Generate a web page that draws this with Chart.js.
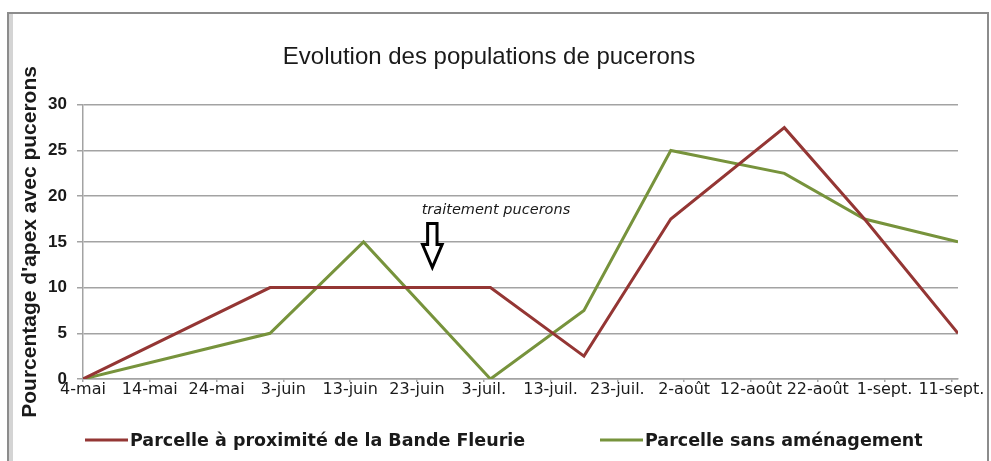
<!DOCTYPE html>
<html><head><meta charset="utf-8">
<script src="https://cdn.jsdelivr.net/npm/chart.js@4.4.1/dist/chart.umd.min.js"></script>
<style>html,body{margin:0;padding:0;background:#fff;} canvas{display:block;}</style>
</head><body>
<canvas id="c" width="991" height="461"></canvas>
<script>
// ---- data ----
const chartTitle = 'Evolution des populations de pucerons';
const yAxisTitle = "Pourcentage d'apex avec pucerons";
const tickLabels = ['4-mai','14-mai','24-mai','3-juin','13-juin','23-juin','3-juil.','13-juil.','23-juil.','2-août','12-août','22-août','1-sept.','11-sept.'];
const tickDays = [0,10,20,30,40,50,60,70,80,90,100,110,120,130];   // days after 4-mai
const sampleDays = [0, 28, 42, 61, 75, 88, 105, 117, 131];          // days after 4-mai
const seriesNames = ['Parcelle à proximité de la Bande Fleurie', 'Parcelle sans aménagement'];
const bandeFleurie = [0, 10, 10, 10, 2.5, 17.5, 27.5, 17.5, 5];
const sansAmenagement = [0, 5, 15, 0, 7.5, 25, 22.5, 17.5, 15];
const annotationText = 'traitement pucerons';
const annotationTextDay = 50.7, annotationTextValue = 18.1;
const arrowDay = 52.3, arrowTopValue = 17.0, arrowTipValue = 12.2;

// ---- styles ----
const RED = '#943634', GREEN = '#77933c', GRID = '#a3a3a3', TXT = '#1a1a1a';
const SANS = "'Liberation Sans', Arial, sans-serif";

const framePlugin = {
  id: 'frame',
  beforeDraw(chart) {
    const ctx = chart.ctx;
    ctx.save();
    ctx.fillStyle = '#fff';
    ctx.fillRect(0, 0, chart.width, chart.height);
    ctx.fillStyle = '#d4d4d4';
    ctx.fillRect(9, 14, 4, chart.height);
    ctx.strokeStyle = '#8c8c8c';
    ctx.lineWidth = 2;
    ctx.strokeRect(8, 13, 980, chart.height + 10);
    ctx.restore();
  }
};

const overlayPlugin = {
  id: 'overlay',
  afterDraw(chart) {
    const ctx = chart.ctx;
    const xs = chart.scales.x, ys = chart.scales.y;
    ctx.save();
    // legend
    const legendY = 440;
    const itemX = [85, 600];
    chart.data.datasets.forEach((ds, i) => {
      ctx.strokeStyle = ds.borderColor;
      ctx.lineWidth = 3;
      ctx.beginPath();
      ctx.moveTo(itemX[i], legendY);
      ctx.lineTo(itemX[i] + 43, legendY);
      ctx.stroke();
      ctx.fillStyle = TXT;
      ctx.font = "bold 17.5px 'DejaVu Sans', sans-serif";
      ctx.textBaseline = 'middle';
      ctx.textAlign = 'left';
      ctx.fillText(ds.label, itemX[i] + 45, legendY + 1);
    });
    // annotation text
    ctx.font = "oblique 14.5px 'DejaVu Sans', sans-serif";
    ctx.fillStyle = TXT;
    ctx.textBaseline = 'alphabetic';
    ctx.fillText(annotationText, xs.getPixelForValue(annotationTextDay), ys.getPixelForValue(annotationTextValue));
    // arrow
    const cx = xs.getPixelForValue(arrowDay);
    const yTop = ys.getPixelForValue(arrowTopValue);
    const yTip = ys.getPixelForValue(arrowTipValue);
    const sw = 4.7, hw = 9.8, hh = 23;
    ctx.beginPath();
    ctx.moveTo(cx - sw, yTop);
    ctx.lineTo(cx + sw, yTop);
    ctx.lineTo(cx + sw, yTip - hh);
    ctx.lineTo(cx + hw, yTip - hh);
    ctx.lineTo(cx, yTip);
    ctx.lineTo(cx - hw, yTip - hh);
    ctx.lineTo(cx - sw, yTip - hh);
    ctx.closePath();
    ctx.fillStyle = '#fff';
    ctx.fill();
    ctx.strokeStyle = '#000';
    ctx.lineWidth = 3;
    ctx.lineJoin = 'miter';
    ctx.stroke();
    ctx.restore();
  }
};

const toPoints = (days, vals) => days.map((d, i) => ({ x: d, y: vals[i] }));

new Chart(document.getElementById('c'), {
  type: 'line',
  data: {
    datasets: [
      { label: seriesNames[0], data: toPoints(sampleDays, bandeFleurie), borderColor: RED, backgroundColor: RED, borderWidth: 3, pointRadius: 0, tension: 0 },
      { label: seriesNames[1], data: toPoints(sampleDays, sansAmenagement), borderColor: GREEN, backgroundColor: GREEN, borderWidth: 3, pointRadius: 0, tension: 0 }
    ]
  },
  options: {
    responsive: false,
    animation: false,
    devicePixelRatio: 1,
    layout: { padding: { left: 20, right: 33, top: 0, bottom: 52 } },
    plugins: {
      legend: { display: false },
      tooltip: { enabled: false },
      title: {
        display: true, text: chartTitle, color: TXT,
        font: { family: SANS, size: 24, weight: 'normal', lineHeight: 1.2 },
        padding: { top: 43, bottom: 33 }
      }
    },
    scales: {
      x: {
        type: 'linear', min: 0, max: 131,
        afterBuildTicks: (s) => { s.ticks = tickDays.map(v => ({ value: v })); },
        afterFit: (s) => { s.height = 30; },
        ticks: {
          autoSkip: false, maxRotation: 0, minRotation: 0, padding: 0, color: TXT,
          font: { family: "'DejaVu Sans', sans-serif", size: 16, lineHeight: 1 },
          callback: (v, i) => tickLabels[i]
        },
        grid: { drawOnChartArea: false, drawTicks: true, tickLength: 3, color: GRID, lineWidth: 1.5 },
        border: { color: GRID, width: 1.5 }
      },
      y: {
        min: 0, max: 30,
        afterFit: (s) => { s.width = 63; },
        ticks: { stepSize: 5, padding: 10, color: TXT, font: { family: SANS, size: 17, weight: 'bold' } },
        grid: { color: GRID, lineWidth: 1.5, tickLength: 6 },
        border: { color: GRID, width: 1.5 },
        title: {
          display: true, text: yAxisTitle, color: TXT,
          font: { family: SANS, size: 21, weight: 'bold', lineHeight: 1 },
          padding: { top: 0, bottom: 0 }
        }
      }
    }
  },
  plugins: [framePlugin, overlayPlugin]
});
</script>
</body></html>
